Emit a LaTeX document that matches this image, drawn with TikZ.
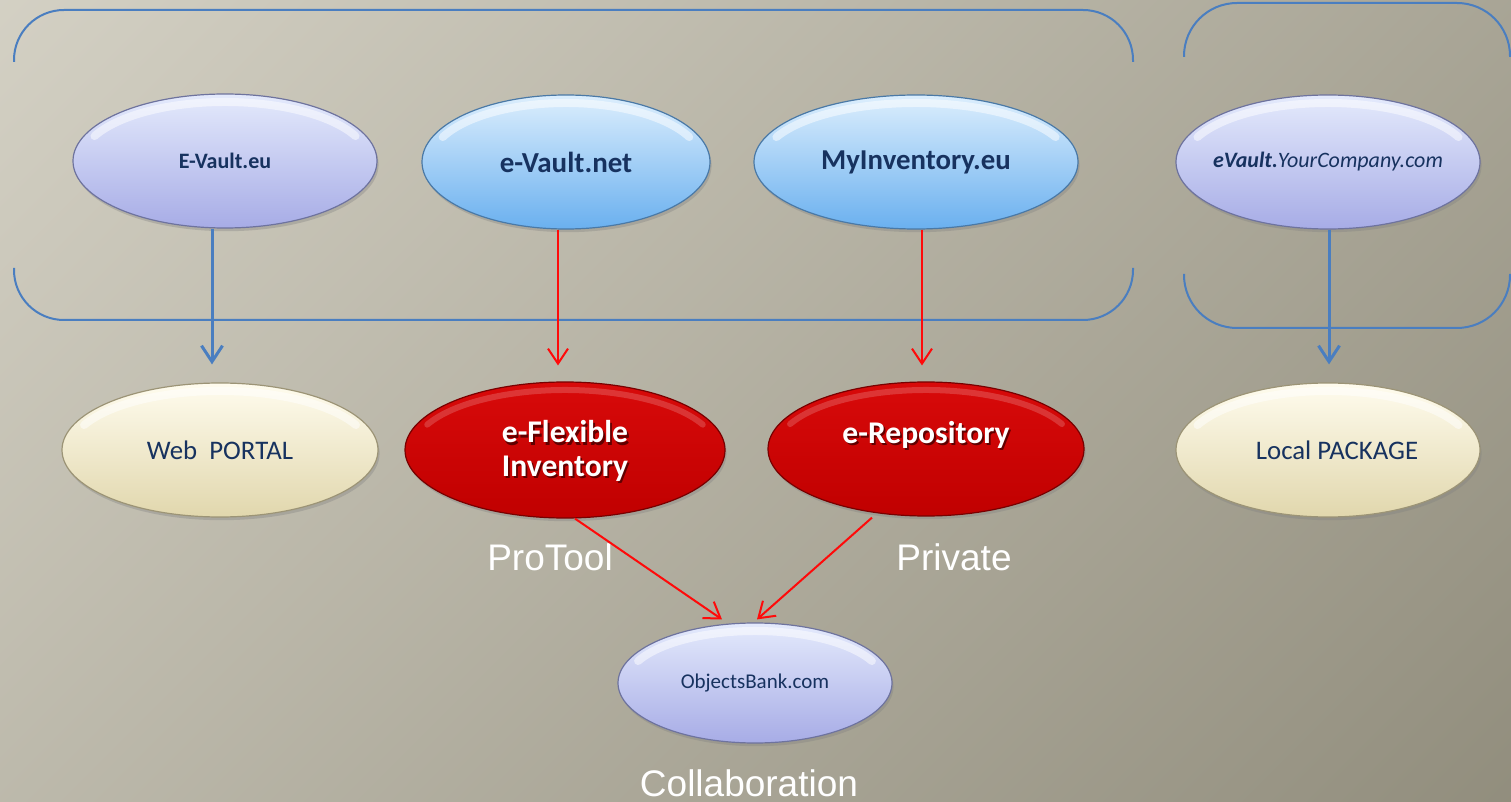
\documentclass[tikz,border=0pt]{standalone}
\usepackage{fontspec}
\setmainfont{Carlito}
\newfontfamily\arialfont{Liberation Sans}
\usetikzlibrary{shapes.geometric,shadows,calc,arrows.meta}
\definecolor{bgA}{HTML}{DCD9CD}
\definecolor{bgB}{HTML}{898574}
\definecolor{navy}{HTML}{17325F}
\definecolor{bline}{HTML}{4A7EC0}
\definecolor{rline}{HTML}{FF0A0A}
\definecolor{lavT}{HTML}{E4EAFC}
\definecolor{lavM}{HTML}{D0D7F7}
\definecolor{lavB}{HTML}{A7ACE6}
\definecolor{lavD}{HTML}{6E739E}
\definecolor{bluT}{HTML}{DCEEFD}
\definecolor{bluM}{HTML}{A6D2FA}
\definecolor{bluB}{HTML}{6AB0EF}
\definecolor{bluD}{HTML}{4A79A6}
\definecolor{redT}{HTML}{D80A0A}
\definecolor{redM}{HTML}{CC0000}
\definecolor{redB}{HTML}{C00000}
\definecolor{redD}{HTML}{780000}
\definecolor{crT}{HTML}{FFFCEE}
\definecolor{crM}{HTML}{F5EFD4}
\definecolor{crB}{HTML}{E1D7AD}
\definecolor{crD}{HTML}{9C9476}
\newcommand\shtext[1]{\rlap{\kern0.9pt\raisebox{-1.1pt}{\textcolor{redD!80!black}{#1}}}#1}
\tikzset{
  gloss/.style={white, opacity=0.5, line width=4pt, line cap=round},
  ell/.style 2 args={ellipse, inner sep=0pt, minimum width=#1*0.5pt, minimum height=#2*0.5pt,
     drop shadow={shadow xshift=0.8pt, shadow yshift=-1.6pt, opacity=0.35},
     path picture={\draw[gloss] ([shift={(155:{#1*0.25pt-4pt} and {#2*0.25pt-4pt})}]path picture bounding box.center)
        arc[start angle=155, end angle=25, x radius={#1*0.25pt-4pt}, y radius={#2*0.25pt-4pt}];}},
  lav/.style={shade, top color=lavT, middle color=lavM, bottom color=lavB, draw=lavD, line width=0.6pt, text=navy},
  blu/.style={shade, top color=bluT, middle color=bluM, bottom color=bluB, draw=bluD, line width=0.6pt, text=navy},
  rd/.style={shade, top color=redT, middle color=redM, bottom color=redB, draw=redD, line width=0.6pt, text=white,
     gloss/.style={white, opacity=0.18, line width=3pt, line cap=round}},
  cr/.style={shade, top color=crT, middle color=crM, bottom color=crB, draw=crD, line width=0.6pt, text=navy},
  bracket/.style={draw=bline, line width=1pt},
  barr/.style={draw=bline, line width=1.5pt, -{Straight Barb[length=8pt,width=10.5pt]}},
  rarr/.style={draw=rline, line width=1pt, -{Straight Barb[length=7.5pt,width=10pt]}},
  lbl/.style={text=white, font=\arialfont\fontsize{18.5}{22}\selectfont, inner sep=0pt}
}
\begin{document}
\begin{tikzpicture}[x=0.5pt,y=-0.5pt]
\useasboundingbox (0,0) rectangle (1511,802);
\begin{scope}
\clip (0,0) rectangle (1511,802);
\shade[top color=bgA, bottom color=bgB, shading angle=45] (-600,-320) rectangle (2111,1122);
\end{scope}

% brackets
\draw[bracket, rounded corners=25pt] (14,62) -- (14,10) -- (1133,10) -- (1133,62);
\draw[bracket, rounded corners=25pt] (14,268) -- (14,320) -- (1133,320) -- (1133,268);
\draw[bracket, rounded corners=26.5pt] (1184,57) -- (1184,3) -- (1510,3) -- (1510,57);
\draw[bracket, rounded corners=26.5pt] (1184,274) -- (1184,328) -- (1510,328) -- (1510,274);

% top row
\node[ell={304}{134}, lav, font=\fontsize{11}{13}\selectfont\bfseries] (ev) at (225,161) {E-Vault.eu};
\node[ell={288}{134}, blu, font=\fontsize{14.5}{17}\selectfont\bfseries] (evn) at (566,162) {e-Vault.net};
\node[ell={324}{134}, blu, font=\fontsize{14.4}{17}\selectfont\bfseries] (myi) at (916,162) {MyInventory.eu};
\node[ell={304}{134}, lav, font=\fontsize{11}{13}\selectfont] (evy) at (1328,162) {\makebox[0pt]{\textbf{\textit{eVault.}}\textit{YourCompany.com}}};

% middle row
\node[ell={316}{134}, cr, font=\fontsize{13.4}{16}\selectfont] (web) at (220,450) {Web\ \ PORTAL};
\node[ell={320}{136}, rd, font=\fontsize{15.8}{17}\selectfont\bfseries] (efi) at (565,450)
  {\raisebox{-1.5pt}[\height][\depth]{\begin{tabular}{@{}c@{}}\shtext{e-Flexible}\\\shtext{Inventory}\end{tabular}}};
\node[ell={316}{134}, rd, font=\fontsize{15.8}{18}\selectfont\bfseries] (erp) at (926,449)
  {\raisebox{6.5pt}[\height][\depth]{\shtext{e-Repository}}};
\node[ell={304}{134}, cr, font=\fontsize{13.4}{16}\selectfont] (lp) at (1328,450) {\hspace*{9pt}Local PACKAGE};

% bottom
\node[ell={274}{120}, lav, font=\fontsize{10.5}{12}\selectfont] (ob) at (755,683) {ObjectsBank.com};

% labels
\node[lbl] (pt) at (550,557) {ProTool};
\node[lbl] (pv) at (954,557) {Private};
\node[lbl] (co) at (749,783) {Collaboration};

% arrows
\draw[barr, shorten >=9pt] ([xshift=-6.5pt]ev.south) -- ([xshift=-4pt]web.north);
\draw[barr, shorten >=9pt] ([xshift=0.5pt]evy.south) -- ([xshift=0.5pt]lp.north);
\draw[rarr, shorten >=8pt] ([xshift=-4pt]evn.south) -- ([xshift=-3.5pt]efi.north);
\draw[rarr, shorten >=8pt] ([xshift=3pt]myi.south) -- ([xshift=-2pt]erp.north);
\draw[rarr] ($(efi.south)+(10,0)$) -- ($(ob.north)+(-33,-3)$);
\draw[rarr] ($(erp.south)+(-54,1)$) -- ($(ob.north)+(2,-3)$);
\end{tikzpicture}
\end{document}
